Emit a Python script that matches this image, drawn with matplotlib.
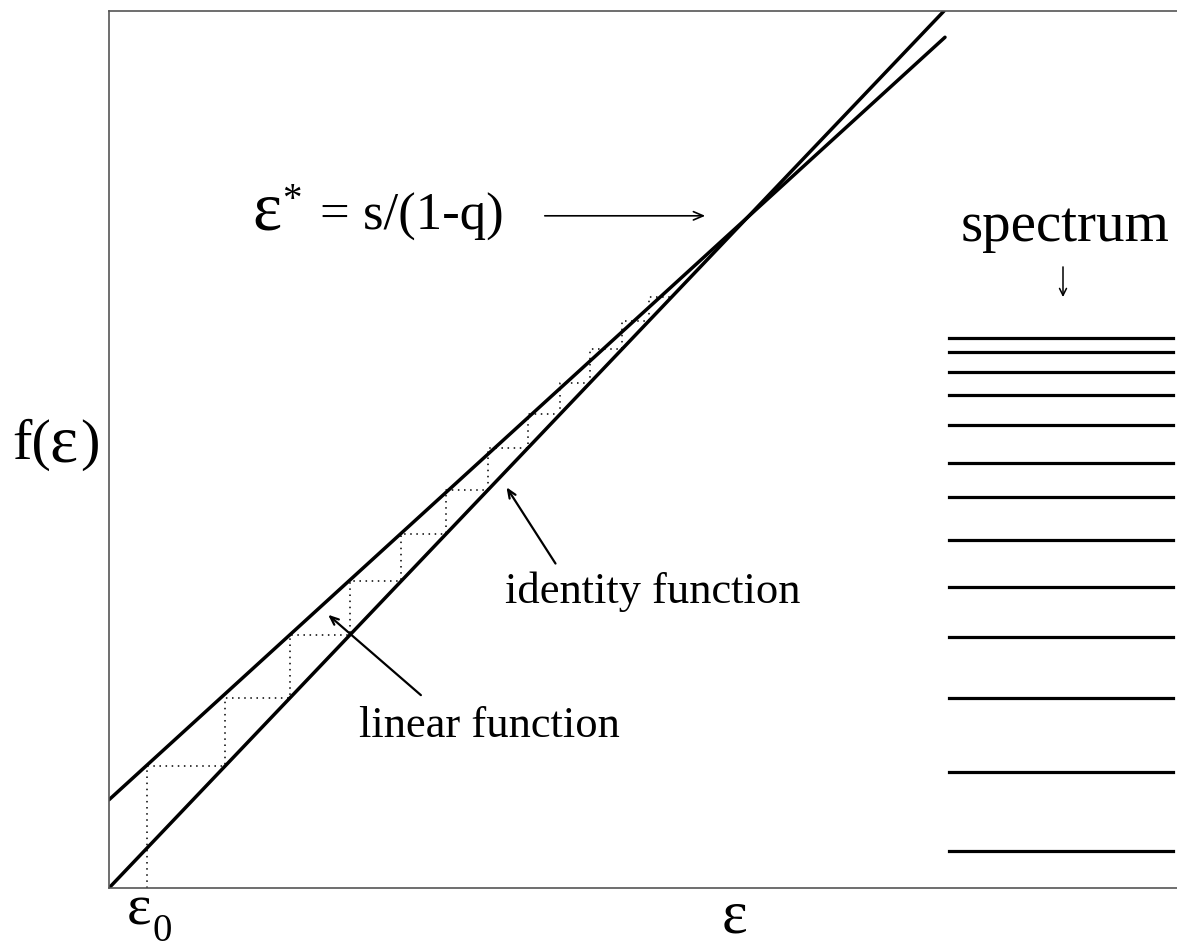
import matplotlib
matplotlib.use("Agg")
import matplotlib.pyplot as plt

plt.rcParams["font.family"] = ["Liberation Serif", "DejaVu Serif"]

# two straight lines: identity f(e)=e and the linear map f(e)=s+q*e
identity_x = [0, 835]
identity_y = [0, 835]
linear_x = [0, 836]
linear_y = [84, 810]

# cobweb iterates e_0, e_1, ...
cobweb_eps = [38, 116, 181, 241, 292, 337, 379, 419, 451, 481, 513, 540, 563]

# spectrum levels (heights of the horizontal bars)
spectrum = [35, 110, 181, 239, 287, 331, 372, 405, 441, 469, 491, 510, 524]
spectrum_x = [840, 1064]

fig = plt.figure(figsize=(11.77, 9.49), dpi=100)
ax = fig.add_axes([109 / 1177, 61 / 949, 1068 / 1177, 877 / 949])
ax.set_xlim(0, 1068)
ax.set_ylim(0, 835)
ax.set_xticks([])
ax.set_yticks([])
for side in ["left", "top", "bottom"]:
    ax.spines[side].set_color("#555555")
    ax.spines[side].set_linewidth(1.2)
ax.spines["right"].set_visible(False)

ax.plot(identity_x, identity_y, color="black", lw=2.5, solid_capstyle="round")
ax.plot(linear_x, linear_y, color="black", lw=2.5, solid_capstyle="round")

# cobweb path
cx = [cobweb_eps[0]]
cy = [0]
for a, b in zip(cobweb_eps[:-1], cobweb_eps[1:]):
    cx += [a, b]
    cy += [b, b]
ax.plot(cx, cy, color="black", lw=1.1, linestyle=(0, (1, 3)))

for level in spectrum:
    ax.plot(spectrum_x, [level, level], color="black", lw=2.3)

# fixed point label
ax.text(143, 626.7, "ε", fontsize=50, ha="left", va="baseline")
ax.text(173, 672, "*", fontsize=28, ha="left", va="top")
ax.text(211, 626.7, "= s/(1-q)", fontsize=38, ha="left", va="baseline")
ax.annotate("", xy=(599, 640), xytext=(433, 640),
            arrowprops=dict(arrowstyle="->,head_length=0.7,head_width=0.3", lw=1.2, color="black"))

ax.text(956, 616, "spectrum", fontsize=41, ha="center", va="baseline")
ax.annotate("", xy=(954, 560), xytext=(954, 594),
            arrowprops=dict(arrowstyle="->,head_length=0.5,head_width=0.25", lw=1.1, color="black"))

ax.text(396, 271.4, "identity function", fontsize=32, ha="left", va="baseline")
ax.annotate("", xy=(396, 383.8), xytext=(448, 306.7),
            arrowprops=dict(arrowstyle="->,head_length=0.6,head_width=0.25", lw=1.6, color="black"))

ax.text(250, 143.8, "linear function", fontsize=32, ha="left", va="baseline")
ax.annotate("", xy=(217, 261.9), xytext=(314, 181.9),
            arrowprops=dict(arrowstyle="->,head_length=0.6,head_width=0.25", lw=1.6, color="black"))

# axis labels
ax.text(-97, 422, "f(", fontsize=42, ha="left", va="center", clip_on=False)
ax.text(-60, 422, "ε", fontsize=48, ha="left", va="center", clip_on=False)
ax.text(-29, 422, ")", fontsize=42, ha="left", va="center", clip_on=False)
ax.text(18, -35, "ε", fontsize=42, ha="left", va="baseline", clip_on=False)
ax.text(43, -50, "0", fontsize=28, ha="left", va="baseline", clip_on=False)
ax.text(613, -42, "ε", fontsize=44, ha="left", va="baseline", clip_on=False)

fig.savefig("out.png", dpi=100)
